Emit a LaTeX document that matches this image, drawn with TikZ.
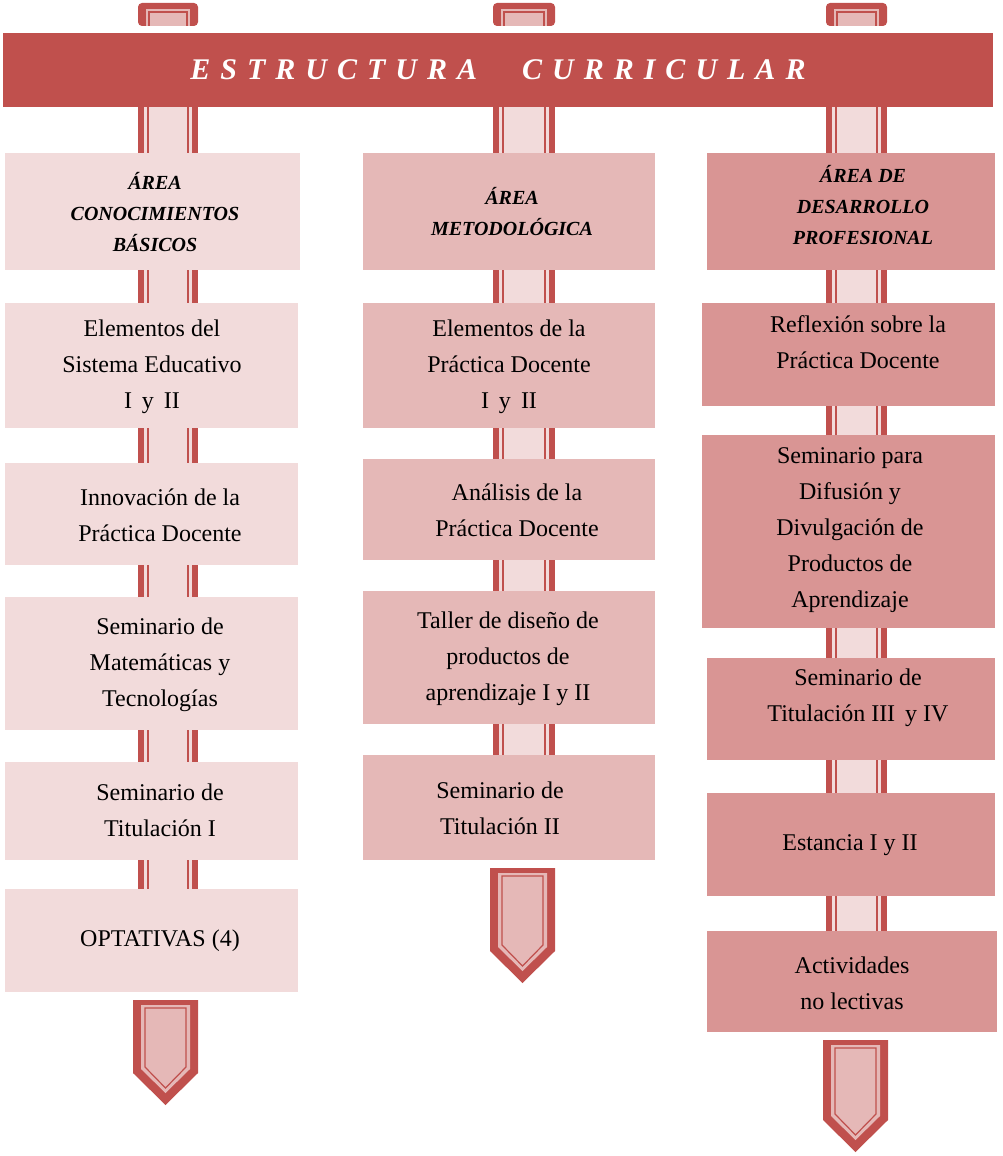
\documentclass[tikz,border=0pt]{standalone}
\usepackage{fontspec}
\setmainfont{Liberation Serif}
\definecolor{dred}{HTML}{C0504D}
\definecolor{c1}{HTML}{F2DBDB}
\definecolor{c2}{HTML}{E5B8B7}
\definecolor{c3}{HTML}{D99594}
\tikzset{
 bx/.style={draw=none,align=center,font=\fontsize{24}{36}\selectfont,text=black},
 hd/.style={draw=none,align=center,font=\fontsize{20}{31}\selectfont\bfseries\itshape,text=black}
}
\newcommand{\myconn}[4]{% x1 x2 y1 y2
 \fill[c1] (#1,#3) rectangle (#2,#4);
 \fill[dred] (#1,#3) rectangle ({#1+6},#4);
 \fill[dred] ({#2-6},#3) rectangle (#2,#4);
 \draw[dred,line width=1.2pt] ({#1+10},#3) -- ({#1+10},#4);
 \draw[dred,line width=1.2pt] ({#2-10},#3) -- ({#2-10},#4);
}
\newcommand{\mytab}[2]{% x1 x2
 \fill[dred,rounded corners=4pt] (#1,3) rectangle (#2,26);
 \fill[c2] ({#1+8},9) rectangle ({#2-8},26);
 \draw[dred,line width=1.2pt] ({#1+11},26) -- ({#1+11},12) -- ({#2-11},12) -- ({#2-11},26);
}
\newcommand{\myarrow}[4]{% x1 x2 ytop ytip
 \fill[dred] (#1,#3) -- (#2,#3) -- (#2,{#4-32}) -- ({(#1+#2)/2},#4) -- (#1,{#4-32}) -- cycle;
 \fill[c2] ({#1+8},{#3+5}) -- ({#2-8},{#3+5}) -- ({#2-8},{#4-36}) -- ({(#1+#2)/2},{#4-12}) -- ({#1+8},{#4-36}) -- cycle;
 \draw[dred,line width=1.2pt] ({#1+12},{#3+8}) -- ({#2-12},{#3+8}) -- ({#2-12},{#4-38}) -- ({(#1+#2)/2},{#4-17}) -- ({#1+12},{#4-38}) -- cycle;
}
\begin{document}
\begin{tikzpicture}[x=1pt,y=-1pt]
\useasboundingbox (0,0) rectangle (1002,1156);
\mytab{138}{198}\mytab{493}{555}\mytab{826}{887}
\fill[dred] (3,33) rectangle (993,107);
\node[text=white,font=\fontsize{30}{36}\selectfont\bfseries\itshape] (ban) at (498,70) {E\,\,S\,\,T\,\,R\,\,U\,\,C\,\,T\,\,U\,\,R\,\,A\quad\ \ C\,\,U\,\,R\,\,R\,\,I\,\,C\,\,U\,\,L\,\,A\,\,R};
\myconn{138}{198}{107}{153}\myconn{493}{555}{107}{153}\myconn{826}{887}{107}{153}
% column 1
\foreach \a/\b in {270/303,428/463,565/597,730/762,860/889}{\myconn{138}{198}{\a}{\b}}
\fill[c1] (5,153) rectangle (300,270);
\fill[c1] (5,303) rectangle (298,428);
\fill[c1] (5,463) rectangle (298,565);
\fill[c1] (5,597) rectangle (298,730);
\fill[c1] (5,762) rectangle (298,860);
\fill[c1] (5,889) rectangle (298,992);
\node[hd] (h1) at (155,212) {ÁREA\\CONOCIMIENTOS\\BÁSICOS};
\node[bx] (a1) at (152,367) {Elementos del\\Sistema Educativo\\I\, y\, II};
\node[bx] (a2) at (160,515) {Innovación de la\\Práctica Docente};
\node[bx] (a3) at (160,665) {Seminario de\\Matemáticas y\\Tecnologías};
\node[bx] (a4) at (160,810) {Seminario de\\Titulación I};
\node[bx] (a5) at (160,941) {OPTATIVAS (4)};
\myarrow{133}{198}{1000}{1105}
% column 2
\foreach \a/\b in {270/303,428/459,560/591,724/755}{\myconn{493}{555}{\a}{\b}}
\fill[c2] (363,153) rectangle (655,270);
\fill[c2] (363,303) rectangle (655,428);
\fill[c2] (363,459) rectangle (655,560);
\fill[c2] (363,591) rectangle (655,724);
\fill[c2] (363,755) rectangle (655,860);
\node[hd] (h2) at (512,212) {ÁREA\\METODOLÓGICA};
\node[bx] (b1) at (509,367) {Elementos de la\\Práctica Docente\\I\, y\, II};
\node[bx] (b2) at (517,510) {Análisis de la\\Práctica Docente};
\node[bx] (b3) at (508,659) {Taller de diseño de\\productos de\\aprendizaje I y II};
\node[bx] (b4) at (500,808) {Seminario de\\Titulación II};
\myarrow{490}{555}{868}{983}
% column 3
\foreach \a/\b in {270/303,406/435,628/658,760/793,896/931}{\myconn{826}{887}{\a}{\b}}
\fill[c3] (707,153) rectangle (995,270);
\fill[c3] (702,303) rectangle (995,406);
\fill[c3] (702,435) rectangle (995,628);
\fill[c3] (707,658) rectangle (995,760);
\fill[c3] (707,793) rectangle (995,896);
\fill[c3] (707,931) rectangle (997,1032);
\node[hd] (h3) at (863,205) {ÁREA DE\\DESARROLLO\\PROFESIONAL};
\node[bx] (c1n) at (858,342) {Reflexión sobre la\\Práctica Docente};
\node[bx] (c2n) at (850,530) {Seminario para\\Difusión y\\Divulgación de\\Productos de\\Aprendizaje};
\node[bx] (c3n) at (858,698) {Seminario de\\Titulación III\, y IV};
\node[bx] (c4n) at (850,845) {Estancia I y II};
\node[bx] (c5n) at (852,983) {Actividades\\no lectivas};
\myarrow{823}{888}{1040}{1152}
\end{tikzpicture}
\end{document}
